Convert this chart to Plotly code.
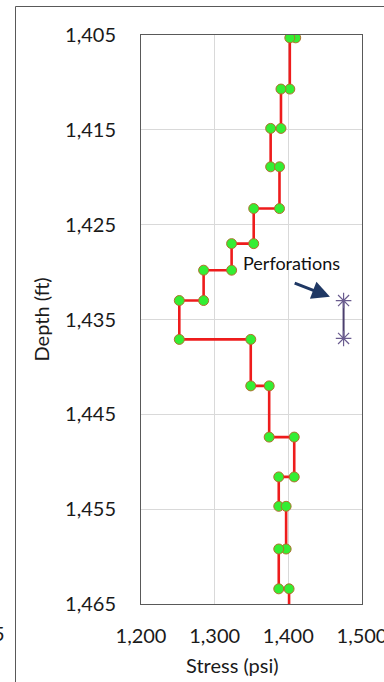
import plotly.graph_objects as go

# Stress profile (step log): stress in psi, depth in ft
stress_psi = [1410, 1402, 1402, 1390, 1390, 1376, 1376, 1388, 1388, 1353, 1353,
              1323, 1323, 1285, 1285, 1252, 1252, 1349, 1349, 1374, 1374, 1408,
              1408, 1387, 1387, 1397, 1397, 1387, 1387, 1401, 1401]
depth_ft = [1405.3, 1405.3, 1410.7, 1410.7, 1414.85, 1414.85, 1418.9, 1418.9,
            1423.3, 1423.3, 1427.0, 1427.0, 1429.8, 1429.8, 1433.0, 1433.0,
            1437.1, 1437.1, 1442.0, 1442.0, 1447.4, 1447.4, 1451.6, 1451.6,
            1454.7, 1454.7, 1459.2, 1459.2, 1463.4, 1463.4, 1467.5]

# Perforation interval
perf_stress = [1475, 1475]
perf_depth = [1433, 1437]

x_ticks = [1200, 1300, 1400, 1500]
y_ticks = [1405, 1415, 1425, 1435, 1445, 1455, 1465]

W, H = 384, 682
PL, PR, PT, PB = 141, 362, 35, 604  # plot area in pixels


def fx(px):
    return px / W


def fy(py):
    return (H - py) / H


FONT = "Lato"

fig = go.Figure()

# page-level pixel axes (lower subplot) used only for the chart-object frame
fig.add_trace(go.Scatter(
    x=[15.5, 15.5, W + 10], y=[H + 10, 6.5, 6.5], mode="lines",
    line=dict(color="#595959", width=1), xaxis="x", yaxis="y",
    showlegend=False, hoverinfo="skip"))

# data subplot (upper)
fig.add_trace(go.Scatter(
    x=stress_psi, y=depth_ft, mode="lines+markers", xaxis="x2", yaxis="y2",
    line=dict(color="#ee1c1c", width=2.6),
    marker=dict(size=10, color="#33ee33", line=dict(color="#b0702c", width=1)),
    showlegend=False, hoverinfo="skip"))
fig.add_trace(go.Scatter(
    x=perf_stress, y=perf_depth, mode="lines+markers", xaxis="x2", yaxis="y2",
    line=dict(color="#4b3f6e", width=2),
    marker=dict(symbol="asterisk-open", size=13, color="#6a5c8f",
                line=dict(color="#6a5c8f", width=1.2)),
    showlegend=False, hoverinfo="skip"))

fig.update_layout(
    width=W, height=H, autosize=False,
    margin=dict(l=0, r=0, t=0, b=0, pad=0),
    paper_bgcolor="white", plot_bgcolor="white",
    font=dict(family=FONT, size=20, color="#1a1a1a"),
    xaxis=dict(domain=[0, 1], range=[0, W], visible=False, anchor="y",
               fixedrange=True, automargin=False),
    yaxis=dict(domain=[0, 1], range=[H, 0], visible=False, anchor="x",
               fixedrange=True, automargin=False),
    xaxis2=dict(domain=[fx(PL), fx(PR)], range=[1200, 1500], tickvals=x_ticks,
                anchor="y2", tickformat=",d", ticklabeloverflow="allow",
                showgrid=True, gridcolor="#d9d9d9", gridwidth=1,
                showline=True, linecolor="#595959", linewidth=1, mirror=True,
                zeroline=False, ticks="", ticklabelstandoff=14, automargin=False,
                tickfont=dict(family=FONT, size=20, color="#1a1a1a")),
    yaxis2=dict(domain=[fy(PB), fy(PT)], range=[1465, 1405], tickvals=y_ticks,
                anchor="x2", tickformat=",d", ticklabeloverflow="allow",
                showgrid=True, gridcolor="#d9d9d9", gridwidth=1,
                showline=True, linecolor="#595959", linewidth=1, mirror=True,
                zeroline=False, ticks="", ticklabelstandoff=20, automargin=False,
                tickfont=dict(family=FONT, size=20, color="#1a1a1a")),
)

annotations = [
    dict(text="Stress (psi)", xref="paper", yref="paper", x=fx(232), y=fy(665),
         xanchor="center", yanchor="middle", showarrow=False,
         font=dict(family=FONT, size=20, color="#1a1a1a")),
    dict(text="Depth (ft)", xref="paper", yref="paper", x=fx(40), y=fy((PT + PB) / 2),
         xanchor="center", yanchor="middle", showarrow=False, textangle=-90,
         font=dict(family=FONT, size=20, color="#1a1a1a")),
    dict(text="Perforations", xref="x2", yref="y2", x=1404.5, y=1429.0,
         xanchor="center", yanchor="middle", showarrow=False,
         font=dict(family=FONT, size=18, color="#111111")),
    dict(text="", xref="x2", yref="y2", x=1456.5, y=1432.6,
         axref="x2", ayref="y2", ax=1406.6, ay=1431.1,
         showarrow=True, arrowhead=2, arrowsize=1.2, arrowwidth=3,
         arrowcolor="#1f3864"),
    dict(text="5", xref="paper", yref="paper", x=fx(7), y=fy(633),
         xanchor="right", yanchor="middle", showarrow=False,
         font=dict(family=FONT, size=20, color="#1a1a1a")),
]
fig.update_layout(annotations=annotations)

fig.write_html("out.html", config={"displayModeBar": False},
               post_script="document.body.style.margin='0';")
